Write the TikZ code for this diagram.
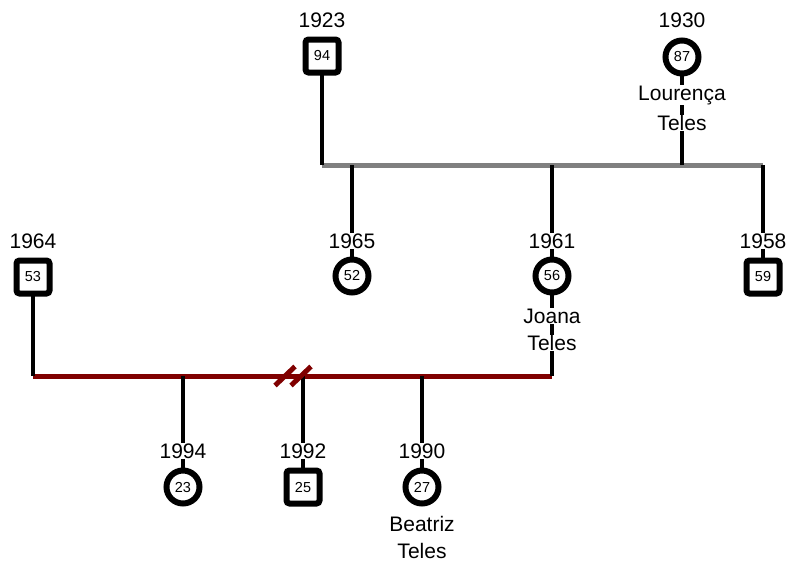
\documentclass[tikz,border=0pt]{standalone}
\usepackage{fontspec}
\setmainfont{Liberation Sans}
\usetikzlibrary{backgrounds}
\definecolor{bargray}{RGB}{128,128,128}
\definecolor{barred}{RGB}{128,0,0}
\tikzset{
  link/.style={line width=4.8pt, black},
  graybar/.style={line width=5pt, bargray},
  redbar/.style={line width=5pt, barred},
  male/.style={draw, line width=6pt, rounded corners=3pt, minimum size=33pt, fill=white, inner sep=0pt, font=\fontsize{14.5}{14.5}\selectfont},
  female/.style={circle, draw, line width=6pt, minimum size=33pt, fill=white, inner sep=0pt, font=\fontsize{14.5}{14.5}\selectfont},
  lab/.style={fill=white, inner sep=0.5pt, font=\fontsize{21}{21}\selectfont}
}
\begin{document}
\begin{tikzpicture}[x=1pt,y=-1pt]
\useasboundingbox (0,0) rectangle (787,563);
% top generation
\node[lab] (y1923) at (322,20) {1923};
\node[male] (p94) at (322,56) {94};
\node[lab] (y1930) at (682,20) {1930};
\node[female] (p87) at (682,57) {87};
\node[lab] (n87a) at (682,95) {Lourença};
\node[lab] (n87b) at (682,123) {Teles};
\coordinate (g1) at (322,165);
\coordinate (g2) at (352,165);
\coordinate (g3) at (552,165);
\coordinate (g5) at (682,165);
\coordinate (g4) at (763,165);
% middle generation
\node[lab] (y1964) at (33,241) {1964};
\node[male] (p53) at (33,277) {53};
\node[lab] (y1965) at (352,241) {1965};
\node[female] (p52) at (352,276) {52};
\node[lab] (y1961) at (552,241) {1961};
\node[female] (p56) at (552,276) {56};
\node[lab] (n56a) at (552,316) {Joana};
\node[lab] (n56b) at (552,343) {Teles};
\node[lab] (y1958) at (763,241) {1958};
\node[male] (p59) at (763,277) {59};
\coordinate (r1) at (33,376);
\coordinate (r2) at (183,376);
\coordinate (r3) at (303,376);
\coordinate (r4) at (422,376);
\coordinate (r5) at (552,376);
\coordinate (s1) at (285,376);
\coordinate (s2) at (301,376);
% bottom generation
\node[lab] (y1994) at (183,451) {1994};
\node[female] (p23) at (183,487) {23};
\node[lab] (y1992) at (303,451) {1992};
\node[male] (p25) at (303,487) {25};
\node[lab] (y1990) at (422,451) {1990};
\node[female] (p27) at (422,487) {27};
\node[lab] (n27a) at (422,524) {Beatriz};
\node[lab] (n27b) at (422,551) {Teles};
\begin{scope}[on background layer]
  \draw[graybar] (g1) -- (g4);
  \draw[redbar] (r1) -- (r5);
  \draw[link] (p94.center) -- (g1);
  \draw[link] (p87.center) -- (g5);
  \draw[link] (g2) -- (p52.center);
  \draw[link] (g3) -- (p56.center);
  \draw[link] (g4) -- (p59.center);
  \draw[link] (p53.center) -- (r1);
  \draw[link] (p56.center) -- (r5);
  \draw[link] (r2) -- (p23.center);
  \draw[link] (r3) -- (p25.center);
  \draw[link] (r4) -- (p27.center);
\end{scope}
\draw[redbar] (s1) ++(-10,9.5) -- ++(20,-19);
\draw[redbar] (s2) ++(-10,9.5) -- ++(20,-19);
\end{tikzpicture}
\end{document}
